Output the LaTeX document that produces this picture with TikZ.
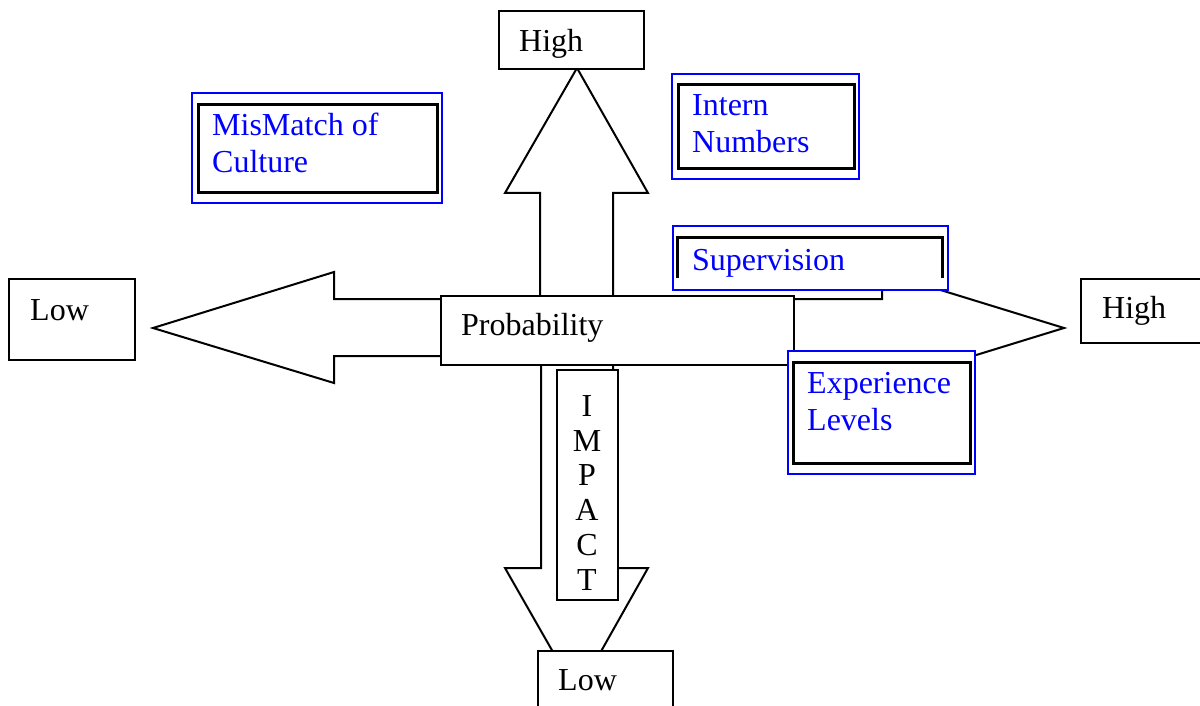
\documentclass[tikz,border=0pt]{standalone}
\usepackage{fontspec}
\setmainfont{Liberation Serif}
\definecolor{bl}{RGB}{0,0,255}
\begin{document}
\begin{tikzpicture}[x=1pt,y=-1pt,
  blk/.style={draw=black, line width=2pt, fill=white, line join=miter},
  box/.style={draw=black, line width=2pt, fill=white, inner sep=0pt, anchor=north west},
  outer/.style={draw=bl, line width=2pt, fill=white, inner sep=0pt, anchor=north west},
  inner/.style={draw=black, line width=3pt, inner sep=0pt, anchor=north west},
  txt/.style={anchor=base west, inner sep=0pt, font=\fontsize{32}{37}\selectfont, align=left},
  btxt/.style={txt, text=bl}]
\useasboundingbox (0,0) rectangle (1200,706);
\clip (0,0) rectangle (1200,706);
% block arrows
\draw[blk] (540,296) -- (540,193) -- (505,193) -- (577,68) -- (648,193) -- (613,193) -- (613,296) -- cycle;
\draw[blk] (441,299) -- (334,299) -- (334,272) -- (153,328) -- (334,383) -- (334,356) -- (441,356) -- cycle;
\draw[blk] (792,299) -- (882,299) -- (882,272) -- (1064,328) -- (882,384) -- (882,356) -- (792,356) -- cycle;
\draw[blk] (541,363) -- (541,568) -- (505,568) -- (577,694) -- (648,568) -- (613,568) -- (613,363) -- cycle;
% centre
\node[box, minimum width=353pt, minimum height=69pt] (prob) at (440,295) {};
\node[txt] (probt) at (461,335) {Probability};
\node[box, minimum width=61pt, minimum height=230pt] (impact) at (556,369) {};
\node[txt, anchor=base, align=center, font=\fontsize{32}{34.7}\selectfont] (impactt) at (587,590) {I\\M\\P\\A\\C\\T};
% end boxes
\node[box, minimum width=145pt, minimum height=58pt] (hiT) at (498,10) {};
\node[txt] (hiTt) at (519,52) {High};
\node[box, minimum width=126pt, minimum height=81pt] (loL) at (8,278) {};
\node[txt] (loLt) at (30,320) {Low};
\node[box, minimum width=140pt, minimum height=64pt] (hiR) at (1080,278) {};
\node[txt] (hiRt) at (1102,318) {High};
\node[box, minimum width=135pt, minimum height=80pt] (loB) at (537,650) {};
\node[txt] (loBt) at (558,690) {Low};
% risk boxes
\node[outer, minimum width=250pt, minimum height=110pt] (mmO) at (191,92) {};
\node[inner, minimum width=239pt, minimum height=88pt] (mmI) at (197,103) {};
\node[btxt] (mmt) at (212,172) {MisMatch of\\Culture};
\node[outer, minimum width=187pt, minimum height=105pt] (inO) at (671,73) {};
\node[inner, minimum width=176pt, minimum height=84pt] (inI) at (677,83) {};
\node[btxt] (int) at (692,153) {Intern\\Numbers};
\node[outer, minimum width=275pt, minimum height=64pt] (suO) at (672,225) {};
\draw[line width=3pt] (677,278) -- (677,237) -- (942,237) -- (942,278);
\node[btxt] (sut) at (692,270) {Supervision};
\node[outer, minimum width=187pt, minimum height=123pt] (exO) at (787,350) {};
\node[inner, minimum width=177pt, minimum height=101pt] (exI) at (792,361) {};
\node[btxt] (ext) at (807,430) {Experience\\Levels};
\end{tikzpicture}
\end{document}
